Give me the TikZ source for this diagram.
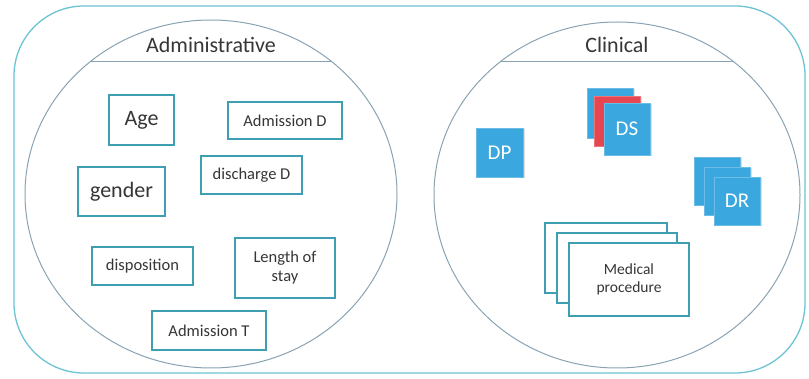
\documentclass[tikz,border=0pt]{standalone}
\usepackage{fontspec}
\setmainfont{Carlito}
\usetikzlibrary{shadows}

\definecolor{rimcyan}{HTML}{6CC3D3}
\definecolor{ringgray}{HTML}{8AA3B3}
\definecolor{boxteal}{HTML}{3E9EB2}
\definecolor{iconblue}{HTML}{3AA7DE}
\definecolor{iconred}{HTML}{E5464F}
\definecolor{inkgray}{HTML}{363636}

\begin{document}
\begin{tikzpicture}[x=1pt, y=-1pt,
    fieldbox/.style={draw=boxteal, line width=1.2pt, fill=white, text=inkgray,
        align=center, inner sep=0pt, font=\fontsize{16.5}{19}\selectfont},
    bigfield/.style={fieldbox, font=\fontsize{22}{24}\selectfont},
    tile/.style={fill=iconblue, draw=iconblue!75!white, line width=0.6pt, inner sep=0pt,
        minimum width=46pt, minimum height=50pt, text=white,
        font=\fontsize{21}{22}\selectfont},
    tileshadow/.style={drop shadow={opacity=0.25, shadow xshift=1.5pt, shadow yshift=-1.5pt}},
    title/.style={text=inkgray, font=\fontsize{22}{24}\selectfont}]
    \useasboundingbox (0,0) rectangle (809,379);

    % outer frame and the two groups
    \draw[rimcyan, line width=1.3pt, rounded corners=70pt] (14,6) rectangle (805,373);
    \draw[ringgray, line width=1pt] (211,194) ellipse [x radius=186pt, y radius=174pt];
    \draw[ringgray, line width=1pt] (617,195) ellipse [x radius=183pt, y radius=173pt];
    \draw[ringgray, line width=1pt] (90,62) -- (332,62);
    \draw[ringgray, line width=1pt] (500,62) -- (734,62);

    \node[title] (admin) at (211,45) {Administrative};
    \node[title] (clin) at (617,45) {Clinical};

    % administrative fields
    \node[bigfield, minimum width=65pt, minimum height=50pt] (age) at (141.5,120) {Age};
    \node[fieldbox, minimum width=114pt, minimum height=37pt] (admd) at (285,120.5) {Admission D};
    \node[fieldbox, minimum width=101pt, minimum height=38pt] (disd) at (251.5,175) {discharge D};
    \node[bigfield, minimum width=87pt, minimum height=49pt] (gender) at (121.5,191.5) {gender};
    \node[fieldbox, minimum width=101pt, minimum height=38pt] (disp) at (142.5,266) {disposition};
    \node[fieldbox, minimum width=100pt, minimum height=60pt] (los) at (285,268) {Length of\\stay};
    \node[fieldbox, minimum width=114pt, minimum height=39pt] (admt) at (209,330.5) {Admission T};

    % clinical items
    \node[tile, tileshadow, minimum width=47pt, minimum height=49pt] (dp) at (499.5,152.5) {DP};

    \node[tile, tileshadow] (ds3) at (610,113) {};
    \node[tile, tileshadow, fill=iconred, draw=iconred!75!white] (ds2) at (617,121) {};
    \node[tile, tileshadow, minimum height=52pt] (ds1) at (627,129) {DS};

    \node[tile, tileshadow, minimum height=48pt] (dr3) at (717,181) {};
    \node[tile, tileshadow, minimum height=48pt] (dr2) at (727,191) {};
    \node[tile, tileshadow, minimum height=48pt] (dr1) at (737,201) {DR};

    \node[fieldbox, minimum width=122pt, minimum height=70pt] (mp3) at (606,258) {};
    \node[fieldbox, minimum width=120pt, minimum height=70pt] (mp2) at (617,268) {};
    \node[fieldbox, minimum width=120pt, minimum height=73pt,
        font=\fontsize{15.5}{18}\selectfont] (mp1) at (629,279.5) {Medical\\procedure};
\end{tikzpicture}
\end{document}
